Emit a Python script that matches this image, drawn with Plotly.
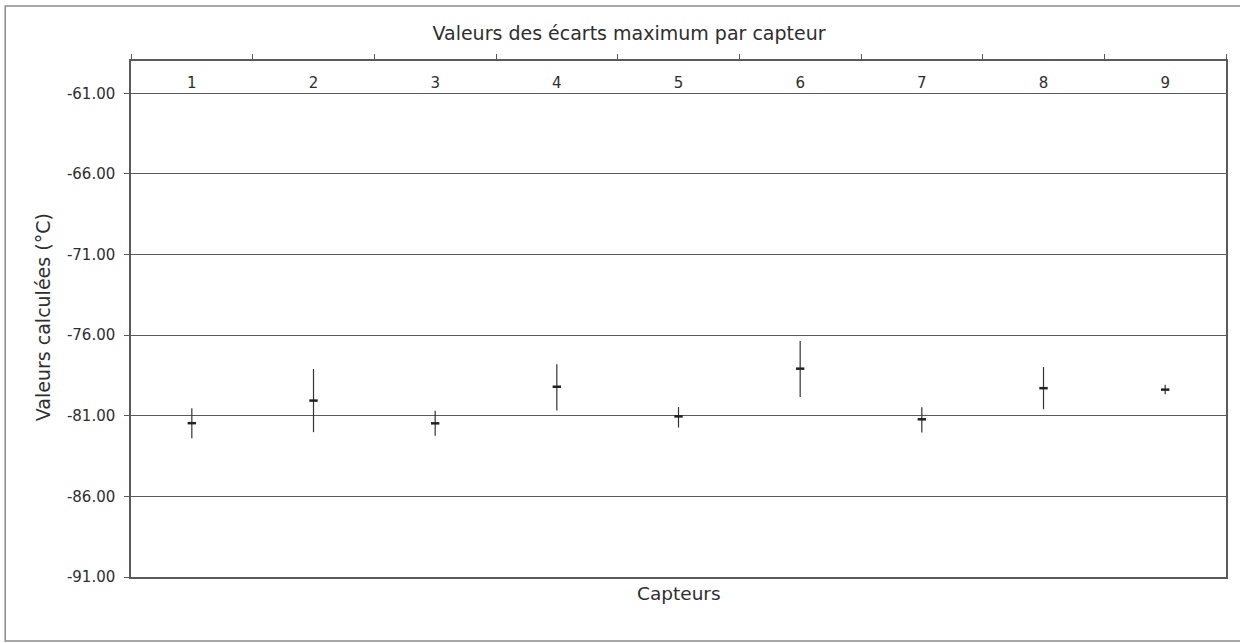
import plotly.graph_objects as go

capteurs = ["1", "2", "3", "4", "5", "6", "7", "8", "9"]
valeurs = [-81.46, -80.06, -81.47, -79.20, -81.04, -78.08, -81.22, -79.29, -79.38]
maxima = [-80.54, -78.10, -80.69, -77.80, -80.46, -76.37, -80.48, -77.98, -79.08]
minima = [-82.40, -82.02, -82.24, -80.67, -81.73, -79.83, -82.04, -80.60, -79.67]
y_ticks = [-61, -66, -71, -76, -81, -86, -91]
y_ticktext = ["-61.00", "-66.00", "-71.00", "-76.00", "-81.00", "-86.00", "-91.00"]

err_plus = [mx - v for mx, v in zip(maxima, valeurs)]
err_minus = [v - mn for mn, v in zip(minima, valeurs)]

FONT = "DejaVu Sans"
TXT = "#2e2e2e"
GRID = "#5a5a5a"

fig = go.Figure()
fig.add_trace(go.Scatter(
    x=capteurs, y=valeurs, mode="markers",
    marker=dict(symbol="line-ew", size=6, line=dict(width=2.5, color="#222")),
    error_y=dict(type="data", symmetric=False, array=err_plus, arrayminus=err_minus,
                 width=0, thickness=1.2, color="#333"),
    showlegend=False,
))

W, H = 1240, 643
L, R, T, B = 131, 12, 61, 66
pw, ph = W - L - R, H - T - B

fig.update_layout(
    width=W, height=H,
    margin=dict(l=L, r=R, t=T, b=B),
    paper_bgcolor="white", plot_bgcolor="white",
    font=dict(family=FONT, color=TXT, size=15),
    title=dict(text="Valeurs des écarts maximum par capteur", x=629 / W, xref="container",
               xanchor="center", y=1 - 33 / H, yref="container", yanchor="middle",
               font=dict(size=19, family=FONT, color=TXT)),
    xaxis=dict(type="category", side="top", ticklabelposition="inside",
               ticklabelstandoff=17,
               tickson="boundaries", ticks="outside", ticklen=5, tickcolor=GRID,
               showgrid=False, showline=True, linecolor=GRID, linewidth=1.5, mirror=True,
               tickfont=dict(size=15, color=TXT), range=[-0.5, 8.5], fixedrange=True),
    yaxis=dict(range=[-91, -59], tickvals=y_ticks, ticktext=y_ticktext,
               ticks="outside", ticklen=5, tickcolor=GRID, ticklabelstandoff=6,
               showgrid=True, gridcolor=GRID, gridwidth=1,
               showline=True, linecolor=GRID, linewidth=1.5, mirror=True,
               zeroline=False, tickfont=dict(size=15, color=TXT)),
    annotations=[
        dict(text="Capteurs", xref="paper", yref="paper", x=0.5, y=-(593 - (T + ph)) / ph,
             xanchor="center", yanchor="middle", showarrow=False,
             font=dict(size=18.5, family=FONT, color=TXT)),
        dict(text="Valeurs calculées (°C)", xref="paper", yref="paper",
             x=(43 - L) / pw, y=1 - (317 - T) / ph, xanchor="center", yanchor="middle",
             textangle=-90, showarrow=False, font=dict(size=19, family=FONT, color=TXT)),
    ],
    shapes=[
        dict(type="rect", xref="paper", yref="paper",
             x0=(5 - L) / pw, x1=(1250 - L) / pw,
             y0=1 - (641 - T) / ph, y1=1 - (6 - T) / ph,
             line=dict(color="#8a8a8a", width=1.5), fillcolor="rgba(0,0,0,0)", layer="below"),
    ],
)

fig.write_html("out.html", config={"displayModeBar": False},
               post_script="document.body.style.margin='0';document.body.style.padding='0';")
